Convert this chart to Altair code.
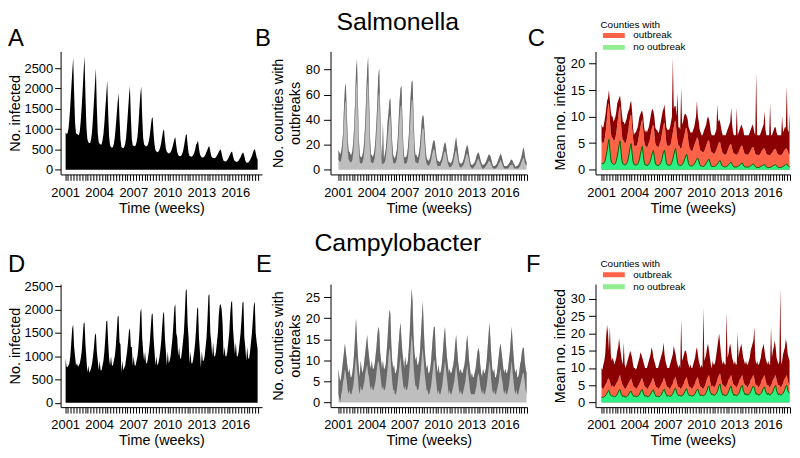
import altair as alt
import pandas as pd

YEARS = list(range(2001, 2018))
MONTHS = list(range(12))

# ---------------- Salmonella (monthly readings, Jan..Dec per row) ----------------
SAL_INFECTED = [
    920, 880, 900, 1000, 1250, 1600, 2000, 2400, 2750, 1900, 1150, 900,
    880, 870, 850, 950, 1200, 1550, 1950, 2400, 2800, 1800, 1050, 760,
    680, 660, 660, 760, 950, 1300, 1700, 2100, 2500, 1550, 900, 680,
    640, 620, 620, 720, 880, 1150, 1500, 1850, 2200, 1400, 820, 600,
    560, 540, 560, 640, 800, 1050, 1350, 1650, 1890, 1250, 750, 560,
    540, 530, 560, 640, 800, 1100, 1450, 1800, 2060, 1300, 760, 600,
    590, 580, 600, 680, 820, 1100, 1500, 1850, 2050, 1300, 780, 620,
    600, 580, 580, 620, 700, 850, 1050, 1250, 1300, 900, 620, 480,
    450, 430, 440, 480, 550, 650, 800, 950, 1000, 720, 520, 440,
    420, 400, 410, 430, 480, 560, 650, 760, 800, 600, 440, 360,
    340, 330, 340, 380, 440, 560, 700, 850, 880, 620, 420, 340,
    330, 320, 330, 360, 420, 500, 620, 650, 720, 520, 380, 330,
    310, 300, 310, 340, 380, 440, 500, 560, 580, 450, 340, 300,
    290, 280, 290, 310, 350, 390, 440, 480, 500, 400, 290, 220,
    210, 200, 210, 240, 280, 330, 390, 430, 450, 340, 250, 210,
    200, 190, 200, 230, 270, 310, 370, 410, 420, 330, 230, 180,
    170, 180, 200, 240, 290, 340, 420, 480, 510, 420, 300, 250,
]
SAL_COUNTIES_HIGH = [
    16, 14, 12, 15, 20, 30, 50, 65, 69, 45, 25, 15,
    14, 12, 12, 15, 22, 35, 55, 80, 88, 55, 25, 12,
    10, 10, 12, 16, 25, 40, 60, 80, 90, 60, 28, 12,
    12, 10, 12, 16, 25, 38, 55, 75, 81, 50, 20, 6,
    38, 8, 12, 16, 25, 38, 45, 55, 57, 40, 22, 12,
    10, 9, 12, 16, 25, 40, 55, 65, 67, 42, 20, 10,
    10, 10, 12, 18, 28, 45, 60, 70, 71, 45, 22, 12,
    12, 10, 10, 14, 20, 30, 40, 44, 42, 30, 18, 10,
    8, 7, 8, 10, 14, 18, 22, 24, 22, 16, 10, 7,
    7, 6, 7, 9, 12, 16, 20, 22, 20, 14, 9, 6,
    6, 5, 6, 8, 12, 16, 22, 26, 20, 14, 8, 5,
    5, 5, 6, 8, 11, 15, 18, 20, 17, 12, 7, 4,
    4, 4, 5, 6, 8, 11, 13, 14, 12, 9, 6, 4,
    4, 4, 5, 6, 8, 10, 12, 12, 11, 8, 5, 3,
    3, 3, 4, 5, 7, 9, 11, 13, 11, 8, 5, 3,
    3, 3, 3, 4, 5, 6, 8, 8, 7, 5, 4, 2,
    3, 3, 4, 5, 7, 9, 12, 16, 18, 12, 8, 6,
]
SAL_COUNTIES_LOW = [
    8, 7, 6, 8, 12, 22, 38, 52, 55, 32, 15, 8,
    7, 6, 6, 8, 14, 25, 42, 65, 72, 40, 14, 6,
    5, 5, 6, 9, 16, 28, 45, 65, 72, 42, 15, 6,
    6, 5, 6, 9, 16, 28, 42, 58, 62, 35, 10, 4,
    5, 5, 6, 9, 16, 26, 34, 42, 44, 28, 12, 6,
    5, 5, 6, 9, 16, 28, 42, 50, 52, 30, 12, 5,
    5, 5, 6, 10, 18, 32, 46, 55, 56, 32, 12, 6,
    6, 5, 5, 8, 12, 20, 30, 34, 32, 20, 10, 5,
    4, 3, 4, 5, 8, 12, 15, 17, 15, 10, 5, 3,
    3, 3, 3, 5, 7, 10, 14, 15, 13, 9, 5, 3,
    2, 2, 3, 4, 6, 10, 14, 16, 12, 8, 4, 2,
    2, 2, 3, 4, 6, 9, 12, 13, 11, 7, 3, 2,
    1, 1, 2, 3, 4, 6, 8, 9, 7, 5, 3, 1,
    1, 1, 2, 3, 4, 5, 7, 7, 6, 4, 2, 1,
    1, 1, 1, 2, 3, 5, 6, 8, 6, 4, 2, 1,
    1, 1, 1, 1, 2, 3, 4, 4, 4, 2, 1, 1,
    1, 1, 1, 2, 3, 5, 7, 9, 10, 6, 4, 3,
]
SAL_MEAN_OUT_HIGH = [
    8.5, 8.0, 8.0, 9.0, 10.0, 11.5, 13.0, 13.5, 15.0, 13.0, 11.0, 10.0,
    10.0, 9.0, 9.5, 10.0, 11.0, 12.5, 13.0, 13.5, 14.0, 12.5, 10.5, 9.0,
    9.0, 8.5, 9.0, 9.5, 10.5, 11.0, 11.5, 12.5, 13.0, 11.0, 8.0, 6.5,
    7.0, 7.0, 7.5, 8.0, 9.0, 10.0, 10.5, 11.0, 11.0, 10.0, 8.0, 7.0,
    7.5, 7.0, 7.5, 8.0, 9.0, 10.0, 11.0, 11.5, 11.0, 10.0, 8.0, 7.5,
    7.5, 7.0, 7.0, 8.0, 9.0, 10.0, 11.0, 11.5, 12.3, 10.0, 8.0, 7.5,
    7.5, 7.5, 8.0, 9.0, 10.0, 21.0, 11.5, 12.0, 12.0, 10.0, 14.5, 8.0,
    8.0, 7.5, 15.5, 8.5, 9.0, 10.0, 10.5, 10.5, 10.0, 9.5, 8.0, 7.5,
    7.0, 7.0, 7.0, 7.5, 8.0, 9.0, 10.0, 13.0, 10.0, 9.0, 7.5, 7.0,
    6.5, 6.5, 7.0, 7.5, 8.0, 8.5, 9.5, 10.0, 9.5, 8.5, 7.0, 6.5,
    6.5, 6.5, 6.5, 7.0, 7.5, 12.3, 9.0, 9.5, 9.0, 8.0, 7.0, 6.5,
    6.5, 6.5, 6.5, 7.0, 7.5, 8.0, 8.5, 9.0, 11.7, 8.5, 7.0, 6.5,
    6.5, 6.5, 11.7, 6.5, 7.0, 7.5, 8.0, 8.5, 8.0, 7.5, 6.5, 6.5,
    6.5, 6.5, 6.5, 6.5, 7.0, 7.5, 8.0, 8.5, 8.0, 7.0, 6.5, 18.2,
    6.5, 6.5, 6.5, 6.5, 7.0, 7.5, 8.0, 8.5, 11.0, 7.5, 6.5, 6.5,
    6.5, 6.5, 12.5, 6.5, 6.5, 7.0, 7.5, 8.0, 8.0, 7.0, 6.5, 6.5,
    6.5, 6.5, 6.5, 10.1, 7.0, 7.5, 8.0, 8.0, 15.7, 7.5, 7.0, 10.8,
]
SAL_MEAN_OUT_LOW = [
    5.5, 5.0, 5.0, 5.5, 6.5, 8.0, 10.0, 12.0, 12.5, 9.5, 7.0, 6.0,
    6.0, 5.5, 5.5, 6.0, 7.0, 8.5, 10.0, 11.5, 12.0, 9.0, 6.5, 5.5,
    5.5, 5.0, 5.0, 5.5, 6.5, 7.5, 9.0, 10.0, 10.4, 8.0, 6.0, 4.5,
    4.5, 4.5, 4.5, 5.0, 6.0, 7.0, 8.0, 9.0, 9.5, 7.5, 5.5, 4.5,
    4.5, 4.0, 4.5, 5.0, 5.5, 6.5, 7.5, 8.2, 8.5, 7.0, 5.0, 4.5,
    4.5, 4.0, 4.5, 5.0, 5.5, 6.5, 7.5, 8.5, 8.9, 7.0, 5.0, 4.5,
    4.5, 4.5, 4.5, 5.0, 6.0, 7.0, 8.0, 9.0, 9.2, 7.0, 5.5, 4.5,
    4.5, 4.0, 4.0, 4.5, 5.5, 6.0, 7.0, 7.8, 7.9, 6.5, 5.0, 4.0,
    3.8, 3.5, 3.5, 4.0, 4.5, 5.0, 5.5, 6.0, 6.0, 5.0, 4.0, 3.5,
    3.5, 3.3, 3.3, 3.5, 4.0, 4.5, 5.0, 5.5, 5.5, 4.5, 3.5, 3.3,
    3.2, 3.0, 3.0, 3.3, 3.8, 4.2, 4.8, 5.2, 5.2, 4.3, 3.5, 3.0,
    3.0, 2.8, 2.8, 3.0, 3.5, 4.0, 4.5, 4.8, 4.8, 4.0, 3.3, 3.0,
    3.0, 2.8, 2.8, 3.0, 3.3, 3.8, 4.2, 4.5, 4.5, 3.8, 3.2, 2.9,
    2.9, 2.8, 2.8, 3.0, 3.3, 3.6, 4.0, 4.2, 4.2, 3.6, 3.0, 2.8,
    2.8, 2.7, 2.7, 2.9, 3.2, 3.5, 3.8, 4.0, 4.0, 3.5, 3.0, 2.8,
    2.8, 2.7, 2.7, 2.9, 3.2, 3.4, 3.7, 3.9, 3.9, 3.4, 3.0, 2.8,
    2.8, 2.7, 2.7, 2.9, 3.2, 3.5, 3.8, 4.0, 4.0, 3.5, 3.0, 2.8,
]
SAL_MEAN_NO_OUT = [
    1.3, 1.1, 1.1, 1.3, 1.8, 2.6, 3.6, 4.8, 5.7, 3.8, 2.0, 1.3,
    1.1, 1.0, 1.0, 1.2, 1.7, 2.5, 3.5, 4.7, 5.4, 3.5, 1.8, 1.1,
    1.0, 0.9, 0.9, 1.1, 1.5, 2.2, 3.2, 4.3, 4.9, 3.2, 1.6, 1.0,
    0.9, 0.9, 0.9, 1.0, 1.4, 2.0, 2.9, 3.8, 4.4, 2.9, 1.5, 0.9,
    0.9, 0.8, 0.8, 1.0, 1.3, 1.8, 2.5, 3.2, 3.6, 2.5, 1.3, 0.9,
    0.8, 0.8, 0.8, 1.0, 1.3, 1.8, 2.6, 3.4, 3.7, 2.5, 1.3, 0.9,
    0.9, 0.8, 0.8, 1.0, 1.4, 2.0, 2.8, 3.6, 4.0, 2.6, 1.4, 0.9,
    0.8, 0.8, 0.8, 0.9, 1.2, 1.6, 2.1, 2.6, 2.9, 2.0, 1.1, 0.8,
    0.7, 0.7, 0.7, 0.8, 1.0, 1.3, 1.7, 2.0, 2.2, 1.6, 1.0, 0.7,
    0.7, 0.6, 0.6, 0.7, 0.9, 1.2, 1.5, 1.8, 2.0, 1.4, 0.9, 0.6,
    0.6, 0.6, 0.6, 0.7, 0.8, 1.0, 1.3, 1.6, 1.7, 1.2, 0.8, 0.6,
    0.6, 0.5, 0.5, 0.6, 0.7, 0.9, 1.1, 1.3, 1.4, 1.0, 0.7, 0.5,
    0.5, 0.5, 0.5, 0.6, 0.7, 0.8, 1.0, 1.2, 1.25, 0.9, 0.6, 0.5,
    0.5, 0.5, 0.5, 0.5, 0.6, 0.7, 0.9, 1.0, 1.06, 0.8, 0.6, 0.4,
    0.4, 0.4, 0.4, 0.5, 0.6, 0.7, 0.8, 0.9, 0.94, 0.7, 0.5, 0.4,
    0.4, 0.4, 0.4, 0.5, 0.6, 0.7, 0.8, 0.9, 0.94, 0.7, 0.5, 0.4,
    0.4, 0.4, 0.4, 0.5, 0.6, 0.7, 0.8, 1.0, 1.06, 0.8, 0.6, 0.5,
]

# ---------------- Campylobacter ----------------
CAM_INFECTED = [
    950, 780, 760, 800, 850, 1000, 1300, 1600, 1680, 1200, 1000, 800,
    850, 780, 800, 850, 950, 1100, 1400, 1700, 1730, 1250, 950, 650,
    800, 650, 680, 750, 850, 1000, 1200, 1450, 1500, 1100, 900, 700,
    900, 700, 700, 800, 900, 1100, 1400, 1750, 1770, 1300, 950, 800,
    1000, 800, 800, 900, 1000, 1200, 1500, 1850, 1870, 1300, 1250, 650,
    900, 700, 750, 800, 950, 1100, 1300, 1550, 1600, 1200, 1200, 800,
    1000, 800, 800, 900, 1000, 1200, 1500, 1950, 2030, 1400, 1100, 900,
    1100, 850, 850, 950, 1100, 1300, 1600, 1900, 1920, 1400, 1100, 800,
    1000, 800, 850, 950, 1100, 1300, 1600, 1900, 1960, 1400, 1100, 800,
    1100, 850, 900, 1000, 1200, 1400, 1700, 2050, 2120, 1500, 1400, 1000,
    1200, 950, 950, 1100, 1300, 1500, 1900, 2400, 2450, 1700, 1400, 850,
    1100, 850, 850, 950, 1100, 1300, 1600, 2000, 2070, 1400, 1100, 750,
    1100, 900, 900, 1000, 1200, 1400, 1800, 2300, 2340, 1500, 1300, 1000,
    1300, 1000, 1000, 1100, 1300, 1500, 1900, 2100, 2120, 2000, 1700, 1000,
    1200, 1000, 1000, 1100, 1300, 1500, 1900, 2150, 2200, 1600, 1300, 1050,
    1300, 1000, 1000, 1100, 1300, 1500, 1800, 2150, 2180, 1400, 1200, 900,
    1200, 950, 950, 1100, 1300, 1500, 1800, 2100, 2170, 1500, 1300, 1150,
]
CAM_COUNTIES_HIGH = [
    8, 6, 5, 6, 8, 10, 12, 14, 12, 10, 8, 7,
    8, 6, 6, 7, 9, 12, 16, 20, 15, 11, 8, 6,
    10, 8, 7, 8, 10, 12, 14, 16, 13, 11, 9, 8,
    10, 8, 8, 9, 11, 13, 16, 18, 17, 12, 10, 8,
    10, 8, 8, 9, 12, 15, 19, 22, 21, 14, 10, 8,
    9, 7, 7, 8, 11, 14, 17, 19, 15, 12, 10, 8,
    11, 9, 9, 10, 13, 17, 22, 27, 24, 16, 12, 10,
    11, 9, 9, 10, 12, 16, 20, 24, 18, 13, 10, 8,
    9, 7, 7, 8, 10, 13, 16, 18, 18, 12, 9, 7,
    9, 7, 7, 8, 10, 13, 16, 18, 14, 11, 9, 7,
    8, 7, 7, 8, 9, 11, 14, 16, 13, 10, 8, 7,
    8, 7, 7, 8, 9, 11, 14, 16, 13, 10, 8, 6,
    7, 6, 6, 7, 8, 10, 12, 13, 12, 9, 7, 6,
    8, 7, 7, 8, 10, 13, 16, 19, 15, 11, 8, 7,
    8, 6, 6, 7, 9, 11, 13, 14, 12, 10, 8, 7,
    8, 7, 7, 8, 10, 12, 15, 18, 14, 11, 8, 7,
    8, 6, 6, 7, 9, 10, 12, 13, 13, 10, 8, 7,
]
CAM_COUNTIES_LOW = [
    2, 1, 0, 2, 3, 5, 6, 8, 7, 5, 3, 2,
    3, 2, 2, 3, 4, 6, 9, 11, 8, 6, 3, 2,
    4, 3, 3, 4, 5, 7, 8, 9, 7, 6, 4, 3,
    4, 3, 3, 4, 5, 7, 9, 10, 9, 7, 5, 3,
    4, 3, 3, 4, 6, 8, 11, 13, 12, 8, 5, 3,
    3, 2, 2, 3, 5, 7, 9, 11, 8, 6, 4, 3,
    4, 3, 3, 4, 6, 9, 13, 16, 14, 9, 6, 4,
    4, 3, 3, 4, 6, 8, 11, 13, 10, 7, 5, 3,
    3, 2, 2, 3, 4, 6, 8, 10, 10, 6, 4, 2,
    3, 2, 2, 3, 4, 6, 8, 10, 8, 6, 4, 2,
    3, 2, 2, 3, 4, 5, 7, 9, 7, 5, 3, 2,
    3, 2, 2, 3, 4, 5, 7, 9, 7, 5, 3, 2,
    2, 2, 2, 2, 3, 4, 6, 7, 6, 4, 3, 2,
    3, 2, 2, 3, 4, 6, 8, 10, 8, 5, 3, 2,
    3, 2, 2, 3, 4, 5, 7, 8, 6, 5, 3, 2,
    3, 2, 2, 3, 4, 6, 8, 10, 7, 5, 3, 2,
    3, 2, 2, 3, 4, 5, 6, 7, 7, 5, 3, 2,
]
CAM_MEAN_OUT_HIGH = [
    10.0, 9.5, 11.0, 12.0, 14.0, 19.0, 22.5, 20.0, 15.0, 22.0, 14.0, 12.0,
    13.0, 12.0, 11.0, 12.0, 13.0, 15.0, 16.0, 18.6, 16.0, 14.0, 12.0, 11.0,
    17.4, 11.0, 10.0, 11.0, 12.0, 13.0, 14.0, 15.0, 14.0, 13.0, 11.0, 10.0,
    10.0, 9.5, 10.0, 11.0, 12.0, 13.0, 14.5, 14.0, 13.0, 12.0, 11.0, 10.0,
    10.0, 10.0, 11.0, 12.0, 13.0, 14.0, 16.0, 15.0, 13.0, 12.0, 11.0, 10.0,
    10.0, 10.0, 11.0, 12.0, 13.0, 14.0, 15.0, 17.4, 14.0, 12.0, 11.0, 10.0,
    10.0, 10.0, 11.0, 12.0, 13.0, 14.0, 16.5, 15.0, 14.0, 12.0, 11.0, 10.0,
    11.0, 10.0, 24.2, 12.0, 13.0, 14.0, 15.0, 15.0, 14.0, 12.0, 11.0, 10.0,
    11.0, 10.0, 10.0, 11.0, 12.0, 13.0, 15.0, 16.0, 14.0, 12.0, 11.0, 10.0,
    11.0, 10.0, 27.3, 12.0, 13.0, 14.0, 16.0, 17.0, 15.0, 13.0, 11.0, 10.0,
    12.0, 11.0, 11.0, 12.0, 14.0, 16.0, 18.0, 20.0, 17.0, 14.0, 12.0, 11.0,
    12.0, 11.0, 11.0, 26.1, 13.0, 14.0, 16.0, 17.0, 15.0, 13.0, 12.0, 11.0,
    12.0, 11.0, 11.0, 20.3, 13.0, 15.0, 16.0, 17.0, 15.0, 13.0, 12.0, 11.0,
    12.0, 11.0, 11.0, 12.0, 13.0, 15.0, 16.0, 17.0, 18.0, 21.8, 13.0, 11.0,
    12.0, 11.0, 11.0, 12.0, 13.0, 15.0, 16.0, 17.0, 15.0, 13.0, 12.0, 11.0,
    12.0, 11.0, 11.0, 22.0, 13.0, 15.0, 16.0, 18.0, 16.0, 13.0, 12.0, 11.0,
    12.0, 33.1, 11.0, 12.0, 14.0, 15.0, 16.0, 18.4, 17.0, 14.0, 13.0, 12.0,
]
CAM_MEAN_OUT_LOW = [
    4.5, 4.0, 4.0, 4.5, 5.0, 5.5, 6.0, 7.0, 7.0, 6.0, 5.0, 4.5,
    5.0, 4.5, 4.5, 5.0, 5.5, 6.0, 6.5, 7.5, 8.0, 6.5, 5.5, 5.0,
    4.5, 4.0, 4.0, 4.5, 5.0, 5.5, 6.0, 6.5, 7.0, 6.0, 5.0, 4.5,
    4.5, 4.0, 4.0, 4.5, 5.0, 5.5, 6.0, 7.0, 7.0, 6.0, 5.0, 4.5,
    4.5, 4.0, 4.0, 4.5, 5.0, 5.5, 6.0, 7.0, 7.0, 6.0, 5.0, 4.5,
    4.5, 4.0, 4.0, 4.5, 5.0, 5.5, 6.0, 7.0, 7.0, 6.0, 5.0, 4.5,
    4.5, 4.0, 4.0, 4.5, 5.0, 5.5, 6.5, 7.0, 7.5, 6.0, 5.0, 4.5,
    4.5, 4.0, 4.0, 4.5, 5.0, 5.5, 6.5, 7.0, 7.5, 6.0, 5.0, 4.5,
    4.5, 4.0, 4.0, 4.5, 5.0, 5.5, 6.5, 7.0, 7.5, 6.0, 5.0, 4.5,
    4.5, 4.0, 4.0, 4.5, 5.0, 6.0, 7.0, 7.5, 8.0, 6.5, 5.0, 4.5,
    5.0, 4.5, 4.5, 5.0, 5.5, 6.5, 7.5, 8.0, 8.5, 7.0, 5.5, 5.0,
    5.0, 4.5, 4.5, 5.0, 5.5, 6.5, 7.0, 7.5, 8.0, 6.5, 5.5, 5.0,
    5.0, 4.5, 4.5, 5.0, 5.5, 6.5, 7.0, 7.5, 8.0, 6.5, 5.5, 5.0,
    5.0, 4.5, 4.5, 5.0, 5.5, 6.5, 7.0, 7.5, 8.0, 7.0, 5.5, 5.0,
    5.0, 4.5, 4.5, 5.0, 5.5, 6.5, 7.0, 7.5, 8.0, 6.5, 5.5, 5.0,
    5.0, 4.5, 4.5, 5.0, 5.5, 6.5, 7.0, 7.5, 8.0, 6.5, 5.5, 5.0,
    5.0, 4.5, 4.5, 5.0, 5.5, 6.5, 7.0, 7.5, 8.0, 6.5, 5.5, 5.0,
]
CAM_MEAN_NO_OUT = [
    1.5, 1.5, 1.6, 1.7, 1.9, 2.3, 2.8, 3.3, 3.5, 2.6, 2.1, 1.8,
    2.0, 1.7, 1.7, 1.8, 2.0, 2.4, 3.0, 3.6, 3.8, 2.7, 2.2, 1.7,
    2.0, 1.6, 1.6, 1.7, 1.9, 2.2, 2.7, 3.2, 3.3, 2.5, 2.1, 1.7,
    2.0, 1.7, 1.7, 1.8, 2.0, 2.4, 3.0, 3.6, 3.8, 2.8, 2.2, 1.8,
    2.1, 1.7, 1.7, 1.8, 2.0, 2.4, 3.0, 3.5, 3.7, 2.7, 2.3, 1.7,
    2.0, 1.7, 1.7, 1.8, 2.1, 2.5, 3.1, 3.7, 3.9, 2.8, 2.3, 1.8,
    2.1, 1.8, 1.8, 1.9, 2.2, 2.6, 3.3, 4.0, 4.2, 3.0, 2.4, 2.0,
    2.2, 1.9, 1.9, 2.0, 2.2, 2.6, 3.2, 3.8, 4.0, 2.9, 2.4, 1.9,
    2.2, 1.9, 1.9, 2.0, 2.2, 2.6, 3.2, 3.7, 3.9, 2.9, 2.4, 1.9,
    2.3, 2.0, 2.0, 2.1, 2.4, 2.9, 3.6, 4.5, 4.8, 3.3, 2.8, 2.2,
    2.5, 2.1, 2.1, 2.3, 2.7, 3.2, 4.0, 5.1, 5.4, 3.6, 2.8, 2.1,
    2.4, 2.0, 2.0, 2.1, 2.5, 3.0, 3.7, 4.5, 4.8, 3.3, 2.6, 2.0,
    2.4, 2.0, 2.0, 2.2, 2.5, 3.1, 3.9, 4.7, 5.0, 3.5, 2.9, 2.3,
    2.6, 2.2, 2.2, 2.3, 2.6, 3.1, 3.8, 4.5, 4.8, 4.2, 3.2, 2.4,
    2.6, 2.2, 2.2, 2.3, 2.6, 3.0, 3.7, 4.3, 4.5, 3.4, 2.8, 2.3,
    2.7, 2.2, 2.2, 2.4, 2.7, 3.2, 3.9, 4.7, 5.0, 3.4, 2.8, 2.2,
    2.6, 2.2, 2.2, 2.4, 2.7, 3.2, 3.9, 4.7, 5.0, 3.6, 3.0, 2.7,
]

# axis tick values / labels, legend entries, headings
X_TICKS = [2001 + 0.25 * k for k in range(69)]
LABEL_EXPR = "(datum.value % 1 == 0 && (datum.value - 2001) % 3 == 0) ? '' + datum.value : ''"
TICKS_INFECTED = [0, 500, 1000, 1500, 2000, 2500]
TICKS_SAL_COUNTIES = [0, 20, 40, 60, 80]
TICKS_SAL_MEAN = [0, 5, 10, 15, 20]
TICKS_CAM_COUNTIES = [0, 5, 10, 15, 20, 25]
TICKS_CAM_MEAN = [0, 5, 10, 15, 20, 25, 30]
LEGEND_KEYS = ["outbreak", "no outbreak"]
ROW_TITLES = ["Salmonella", "Campylobacter"]
PANEL_LETTERS = ["A", "B", "C", "D", "E", "F"]

FONT = "Liberation Sans"
TIME = [y + (m + 0.5) / 12 for y in YEARS for m in MONTHS]

W_A, W_B, W_C, H = 203, 198, 196, 124
DOM_A = [2000.6, 2018.35]
DOM_B = [2000.33, 2018.0]
DOM_C = [2000.5, 2018.0]


def x_enc(dom):
    return alt.X("t:Q", scale=alt.Scale(domain=dom, nice=False, zero=False),
                 axis=alt.Axis(values=X_TICKS, labelExpr=LABEL_EXPR, title="Time (weeks)",
                               labelOverlap=False, labelFlush=False, labelPadding=6,
                               titlePadding=2))


def y_enc(field, dom, ticks, title, tick=6, pad=2, tpad=1):
    return alt.Y(f"{field}:Q", scale=alt.Scale(domain=dom, nice=False, zero=False),
                 axis=alt.Axis(values=ticks, title=title, format="d", tickSize=tick,
                               labelPadding=pad, titlePadding=tpad))


def label_text(text, size, xpix, ypix, align):
    df = pd.DataFrame({"label": [text]})
    return alt.Chart(df).mark_text(fontSize=size, font=FONT, align=align,
                                   baseline="alphabetic", color="black").encode(
        text="label:N", x=alt.value(xpix), y=alt.value(ypix))


def infected_panel(values, dom_y, extra):
    df = pd.DataFrame({"t": TIME, "v": values})
    area = alt.Chart(df).mark_area(color="black").encode(
        x=x_enc(DOM_A), y=y_enc("v", dom_y, TICKS_INFECTED, "No. infected"),
        y2=alt.Y2Datum(0))
    return alt.layer(area, *extra).properties(width=W_A, height=H)


def counties_panel(high, low, dom_y, ticks, extra):
    df = pd.DataFrame({"t": TIME, "hi": high, "lo": low})
    ytitle = ["No. counties with", "outbreaks"]
    base = alt.Chart(df)
    fill = base.mark_area(color="#bebebe").encode(
        x=x_enc(DOM_B), y=y_enc("hi", dom_y, ticks, ytitle, 7, 4, 3), y2=alt.Y2Datum(0))
    band = base.mark_area(color="#696969").encode(
        x=x_enc(DOM_B), y=y_enc("hi", dom_y, ticks, ytitle, 7, 4, 3), y2="lo:Q")
    return alt.layer(fill, band, *extra).properties(width=W_B, height=H)


def mean_panel(high, low, no, dom_y, ticks, extra, leg_y):
    df = pd.DataFrame({"t": TIME, "hi": high, "lo": low, "no": no})
    yt = "Mean no. infected"
    base = alt.Chart(df)

    def ye(f):
        return y_enc(f, dom_y, ticks, yt, 7, 4, 3)

    tomato = base.mark_area(color="#ff6347").encode(
        x=x_enc(DOM_C), y=ye("lo"), y2=alt.Y2Datum(0))
    band = base.mark_area(color="#8b0000").encode(
        x=x_enc(DOM_C), y=ye("hi"), y2="lo:Q")
    green = base.mark_area(color="#2bee84").encode(
        x=x_enc(DOM_C), y=ye("no"), y2=alt.Y2Datum(0))
    gline = base.mark_line(color="#006400", strokeWidth=1).encode(
        x=x_enc(DOM_C), y=ye("no"))
    cscale = alt.Scale(domain=LEGEND_KEYS, range=["#ff6347", "#90ee90"])
    legend = alt.Legend(title="Counties with", orient="none", legendX=5, legendY=leg_y,
                        direction="vertical", titleFontSize=10, titleFontWeight="normal",
                        titleColor="black", titlePadding=0, titleFont=FONT,
                        labelFontSize=10, labelColor="black", labelFont=FONT,
                        symbolType="stroke", symbolSize=484, symbolStrokeWidth=5,
                        symbolOpacity=1, rowPadding=1, labelOffset=6, clipHeight=11)
    keys = []
    for k in LEGEND_KEYS:
        keys.append(base.transform_calculate(key=f"'{k}'").mark_line(opacity=0).encode(
            x=x_enc(DOM_C), y=ye("no"),
            color=alt.Color("key:N", scale=cscale, legend=legend)))
    return alt.layer(tomato, band, green, gline, *keys, *extra).properties(
        width=W_C, height=H)


TOP_LETTER_Y, BOT_LETTER_Y = -5, -12
pA = infected_panel(SAL_INFECTED, [-115, 2915],
                    [label_text(PANEL_LETTERS[0], 24, -53, TOP_LETTER_Y, "left")])
pB = counties_panel(SAL_COUNTIES_HIGH, SAL_COUNTIES_LOW, [-3.7, 94.5], TICKS_SAL_COUNTIES,
                    [label_text(PANEL_LETTERS[1], 24, -76, TOP_LETTER_Y, "left"),
                     label_text(ROW_TITLES[0], 25, 67.8, -22, "center")])
pC = mean_panel(SAL_MEAN_OUT_HIGH, SAL_MEAN_OUT_LOW, SAL_MEAN_NO_OUT, [-0.9, 22.3],
                TICKS_SAL_MEAN,
                [label_text(PANEL_LETTERS[2], 24, -68.3, TOP_LETTER_Y, "left")], -31.5)

pD = infected_panel(CAM_INFECTED, [-96, 2553],
                    [label_text(PANEL_LETTERS[3], 24, -53, BOT_LETTER_Y, "left")])
pE = counties_panel(CAM_COUNTIES_HIGH, CAM_COUNTIES_LOW, [-1.07, 28.1], TICKS_CAM_COUNTIES,
                    [label_text(PANEL_LETTERS[4], 24, -75, BOT_LETTER_Y, "left"),
                     label_text(ROW_TITLES[1], 25, 67.8, -33.5, "center")])
pF = mean_panel(CAM_MEAN_OUT_HIGH, CAM_MEAN_OUT_LOW, CAM_MEAN_NO_OUT, [-1.32, 34.3],
                TICKS_CAM_MEAN,
                [label_text(PANEL_LETTERS[5], 24, -70, BOT_LETTER_Y, "left")], -24.8)

chart = alt.concat(pA, pB, pC, pD, pE, pF, columns=3, bounds="flush",
                   spacing={"row": 110.5, "column": 69}).resolve_scale(
    x="independent", y="independent", color="independent"
).properties(padding=0).configure(font=FONT).configure_view(stroke=None).configure_axis(
    domainColor="black", tickColor="black", labelColor="black", titleColor="black",
    labelFont=FONT, titleFont=FONT, labelFontSize=13, titleFontSize=14.5,
    titleFontWeight="normal", grid=False, tickSize=6, domainWidth=1, tickWidth=1
)

chart.save("out.html", embed_options={"renderer": "svg", "actions": False})
